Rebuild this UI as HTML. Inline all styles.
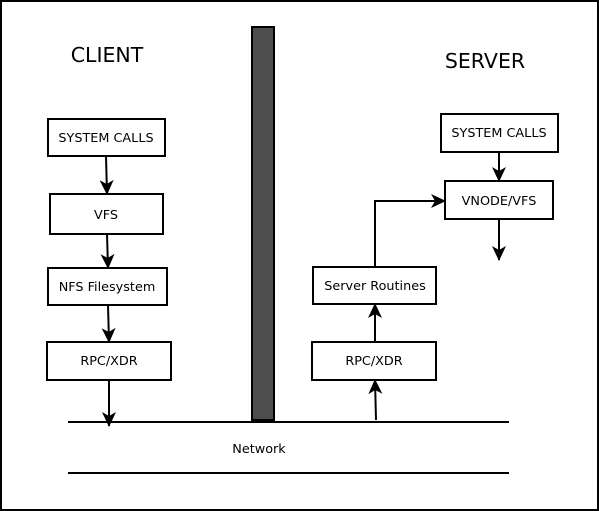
<!DOCTYPE html>
<html><head><meta charset="utf-8"><style>html,body{margin:0;padding:0;background:#fff}svg{display:block}</style></head><body>
<svg width="599" height="511" viewBox="0 0 599 511" xmlns="http://www.w3.org/2000/svg" font-family="'DejaVu Sans', sans-serif">
<defs>
<marker id="b" markerWidth="15" markerHeight="14" refX="14" refY="7" orient="auto" markerUnits="userSpaceOnUse"><path d="M0,0 L15,7 L0,14 L4,7 z" fill="#000"/></marker></defs>
<rect x="1" y="1" width="597" height="509" fill="#fff" stroke="#000" stroke-width="2"/>
<text x="107" y="62" font-size="20.5" text-anchor="middle">CLIENT</text>
<text x="485" y="68" font-size="20.5" text-anchor="middle">SERVER</text>
<rect x="252" y="27" width="22" height="393" fill="#4d4d4d" stroke="#000" stroke-width="2"/>
<g fill="#fff" stroke="#000" stroke-width="2">
<rect x="48" y="119" width="117" height="37"/>
<rect x="50" y="194" width="113" height="40"/>
<rect x="48" y="268" width="119" height="37"/>
<rect x="47" y="342" width="124" height="38"/>
<rect x="441" y="114" width="117" height="38"/>
<rect x="445" y="181" width="108" height="38"/>
<rect x="313" y="267" width="123" height="37"/>
<rect x="312" y="342" width="124" height="38"/>
</g>
<g font-size="12.8" text-anchor="middle">
<text x="106" y="142">SYSTEM CALLS</text>
<text x="106" y="219">VFS</text>
<text x="107" y="291">NFS Filesystem</text>
<text x="109" y="365">RPC/XDR</text>
<text x="499" y="137">SYSTEM CALLS</text>
<text x="499" y="205">VNODE/VFS</text>
<text x="375" y="290">Server Routines</text>
<text x="374" y="365">RPC/XDR</text>
<text x="259" y="453">Network</text>
</g>
<g stroke="#000" stroke-width="2" fill="none">
<line x1="68" y1="422" x2="509" y2="422"/>
<line x1="68" y1="473" x2="509" y2="473"/>
<line x1="106" y1="156" x2="107" y2="194" marker-end="url(#b)"/>
<line x1="107" y1="234" x2="108" y2="268" marker-end="url(#b)"/>
<line x1="108" y1="305" x2="109" y2="342" marker-end="url(#b)"/>
<line x1="109" y1="380" x2="109" y2="426" marker-end="url(#b)"/>
<line x1="376" y1="420" x2="375" y2="380" marker-end="url(#b)"/>
<line x1="375" y1="342" x2="375" y2="304" marker-end="url(#b)"/>
<polyline points="375,267 375,201 445,201" marker-end="url(#b)"/>
<line x1="499" y1="152" x2="499" y2="181" marker-end="url(#b)"/>
<line x1="499" y1="219" x2="499" y2="260" marker-end="url(#b)"/>
</g>
</svg>
</body></html>
